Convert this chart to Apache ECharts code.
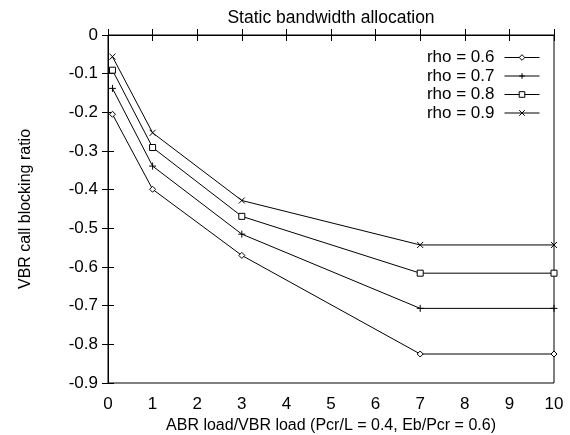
<!DOCTYPE html>
<html><head><meta charset="utf-8">
<script src="https://cdn.jsdelivr.net/npm/echarts@6/dist/echarts.min.js"></script>
<style>html,body{margin:0;padding:0;background:#fff}#c{width:570px;height:435px}</style>
</head><body><div id="c"></div>
<script>
var xValues = [0.1, 1, 3, 7, 10];
var rho06 = [-0.205, -0.399, -0.570, -0.825, -0.825];
var rho07 = [-0.138, -0.339, -0.515, -0.707, -0.707];
var rho08 = [-0.091, -0.291, -0.469, -0.616, -0.616];
var rho09 = [-0.056, -0.253, -0.428, -0.543, -0.543];
var seriesNames = ['rho = 0.6', 'rho = 0.7', 'rho = 0.8', 'rho = 0.9'];
var xTicks = [0,1,2,3,4,5,6,7,8,9,10];
var yTicks = [0,-0.1,-0.2,-0.3,-0.4,-0.5,-0.6,-0.7,-0.8,-0.9];

var FONT = 'Liberation Sans';
var symbols = [
  'diamond',
  'path://M0,5L10,5M5,0L5,10',
  'rect',
  'path://M0,0L10,10M0,10L10,0'
];
var sizes = [6, 7, 6, 6];
var data = [rho06, rho07, rho08, rho09];

function pairs(arr){ return xValues.map(function(x,i){return [x, arr[i]];}); }

var series = data.map(function(d, i){
  return {
    name: seriesNames[i], type: 'line', data: pairs(d),
    symbol: symbols[i], symbolSize: sizes[i], showAllSymbol: true,
    lineStyle: {color: '#000', width: 1},
    itemStyle: {color: '#fff', borderColor: '#000', borderWidth: 1},
    emphasis: {disabled: true}, animation: false
  };
});

var chart = echarts.init(document.getElementById('c'), null, {renderer: 'canvas'});
chart.setOption({
  backgroundColor: '#fff',
  animation: false,
  title: {text: 'Static bandwidth allocation', left: 326, top: 4, textAlign: 'center',
    textStyle: {fontFamily: FONT, fontSize: 17.5, fontWeight: 'normal', color: '#000'}},
  grid: {left: 108, right: 16, top: 35, bottom: 52, show: true, borderColor: '#000', borderWidth: 1,
    containLabel: false, outerBoundsMode: 'none'},
  legend: {
    data: seriesNames.map(function(n){return {name:n};}),
    orient: 'vertical', right: 25, top: 44, align: 'right',
    itemWidth: 35, itemHeight: 7, itemGap: 1.5,
    lineStyle: {width: 1},
    itemStyle: {borderWidth: 1},
    textStyle: {fontFamily: FONT, fontSize: 17, color: '#000', lineHeight: 17, padding: [0, 5, 0, 0]}
  },
  xAxis: [{
    type: 'value', min: 0, max: 10, interval: 1,
    name: 'ABR load/VBR load (Pcr/L = 0.4, Eb/Pcr = 0.6)', nameLocation: 'middle', nameGap: 28,
    nameTextStyle: {fontFamily: FONT, fontSize: 16, color: '#000'},
    axisLine: {lineStyle: {color: '#000'}},
    axisTick: {inside: true, length: 6, lineStyle: {color: '#000'}},
    axisLabel: {fontFamily: FONT, fontSize: 17, color: '#000', margin: 13},
    splitLine: {show: false}
  }, {
    type: 'value', min: 0, max: 10, interval: 1, position: 'top',
    axisLine: {lineStyle: {color: '#000'}},
    axisTick: {inside: true, length: 6, lineStyle: {color: '#000'}},
    axisLabel: {show: false}, splitLine: {show: false}
  }],
  yAxis: [{
    type: 'value', min: -0.9, max: 0, interval: 0.1,
    name: 'VBR call blocking ratio', nameLocation: 'middle', nameGap: 74,
    nameTextStyle: {fontFamily: FONT, fontSize: 16, color: '#000'},
    axisLine: {lineStyle: {color: '#000'}},
    axisTick: {inside: true, length: 6, lineStyle: {color: '#000'}},
    axisLabel: {fontFamily: FONT, fontSize: 17, color: '#000', margin: 10,
      formatter: function(v){ var r = Math.round(v*10)/10; return r === 0 ? '0' : r.toFixed(1); }},
    splitLine: {show: false}
  }, {
    type: 'value', min: -0.9, max: 0, interval: 0.1, position: 'right',
    axisLine: {lineStyle: {color: '#000'}},
    axisTick: {inside: true, length: 6, lineStyle: {color: '#000'}},
    axisLabel: {show: false}, splitLine: {show: false}
  }],
  series: series
});
</script></body></html>
